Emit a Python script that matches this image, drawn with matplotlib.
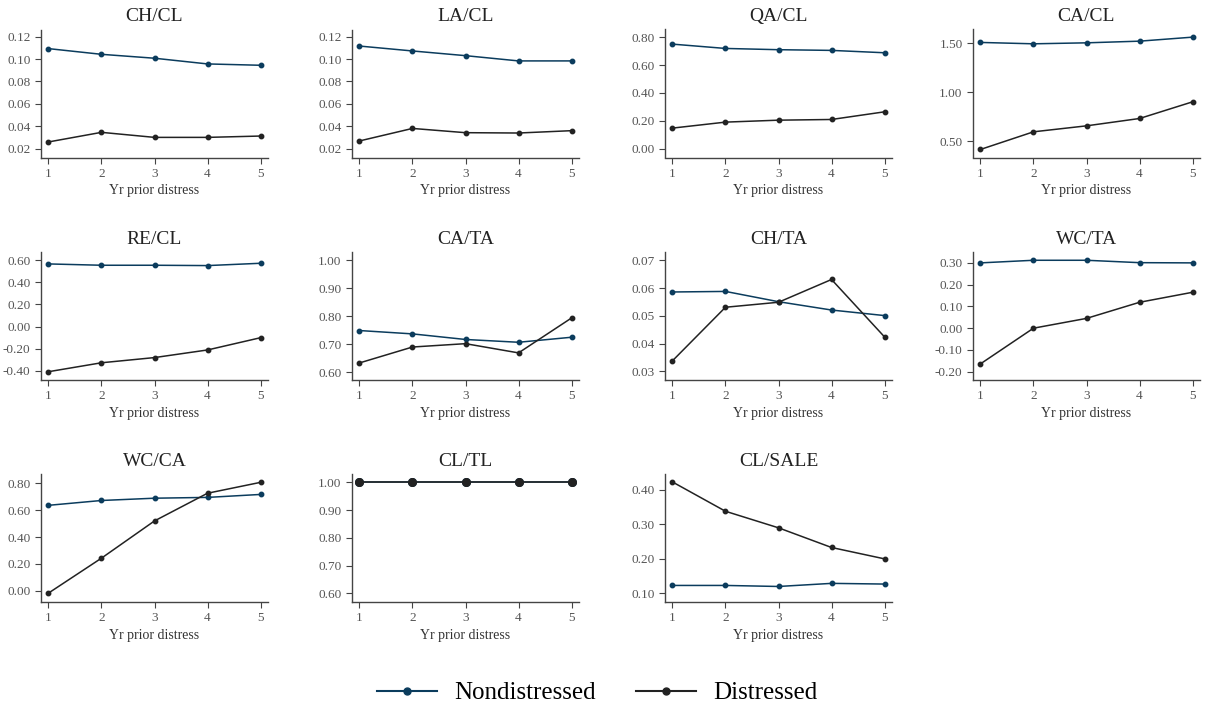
import matplotlib
matplotlib.use('Agg')
import matplotlib.pyplot as plt
from matplotlib.lines import Line2D
import numpy as np

plt.rcParams['font.family'] = ['Liberation Serif', 'DejaVu Serif']
plt.rcParams['axes.unicode_minus'] = False

years = [1, 2, 3, 4, 5]
ratios = ['CH/CL', 'LA/CL', 'QA/CL', 'CA/CL', 'RE/CL', 'CA/TA', 'CH/TA',
          'WC/TA', 'WC/CA', 'CL/TL', 'CL/SALE']

# nondistressed firms
nondist = {
    'CH/CL':   [0.1094, 0.1043, 0.1008, 0.0957, 0.0945],
    'LA/CL':   [0.1117, 0.1073, 0.1031, 0.0984, 0.0984],
    'QA/CL':   [0.750, 0.719, 0.710, 0.705, 0.688],
    'CA/CL':   [1.507, 1.493, 1.503, 1.520, 1.561],
    'RE/CL':   [0.567, 0.555, 0.555, 0.552, 0.573],
    'CA/TA':   [0.749, 0.737, 0.717, 0.707, 0.725],
    'CH/TA':   [0.0586, 0.0588, 0.0551, 0.0521, 0.0501],
    'WC/TA':   [0.300, 0.312, 0.312, 0.301, 0.300],
    'WC/CA':   [0.636, 0.672, 0.689, 0.695, 0.717],
    'CL/TL':   [1.0, 1.0, 1.0, 1.0, 1.0],
    'CL/SALE': [0.123, 0.123, 0.120, 0.129, 0.127],
}
# distressed firms
dist = {
    'CH/CL':   [0.0259, 0.0345, 0.0300, 0.0300, 0.0312],
    'LA/CL':   [0.0268, 0.0380, 0.0342, 0.0339, 0.0360],
    'QA/CL':   [0.147, 0.190, 0.204, 0.209, 0.264],
    'CA/CL':   [0.415, 0.595, 0.656, 0.731, 0.901],
    'RE/CL':   [-0.409, -0.328, -0.281, -0.212, -0.101],
    'CA/TA':   [0.633, 0.690, 0.702, 0.669, 0.794],
    'CH/TA':   [0.0338, 0.0531, 0.0549, 0.0631, 0.0424],
    'WC/TA':   [-0.164, 0.000, 0.045, 0.119, 0.165],
    'WC/CA':   [-0.017, 0.243, 0.520, 0.726, 0.807],
    'CL/TL':   [1.0, 1.0, 1.0, 1.0, 1.0],
    'CL/SALE': [0.423, 0.338, 0.290, 0.233, 0.200],
}
ylims = {
    'CH/CL': (0.012, 0.1265), 'LA/CL': (0.012, 0.1265),
    'QA/CL': (-0.064, 0.855), 'CA/CL': (0.333, 1.639),
    'RE/CL': (-0.484, 0.675), 'CA/TA': (0.572, 1.030),
    'CH/TA': (0.0269, 0.073), 'WC/TA': (-0.238, 0.350),
    'WC/CA': (-0.083, 0.869), 'CL/TL': (0.569, 1.030),
    'CL/SALE': (0.075, 0.446),
}
yticks = {
    'CH/CL': [0.02, 0.04, 0.06, 0.08, 0.10, 0.12],
    'LA/CL': [0.02, 0.04, 0.06, 0.08, 0.10, 0.12],
    'QA/CL': [0.0, 0.2, 0.4, 0.6, 0.8],
    'CA/CL': [0.5, 1.0, 1.5],
    'RE/CL': [-0.4, -0.2, 0.0, 0.2, 0.4, 0.6],
    'CA/TA': [0.6, 0.7, 0.8, 0.9, 1.0],
    'CH/TA': [0.03, 0.04, 0.05, 0.06, 0.07],
    'WC/TA': [-0.2, -0.1, 0.0, 0.1, 0.2, 0.3],
    'WC/CA': [0.0, 0.2, 0.4, 0.6, 0.8],
    'CL/TL': [0.6, 0.7, 0.8, 0.9, 1.0],
    'CL/SALE': [0.1, 0.2, 0.3, 0.4],
}

blue = '#0b3c5d'
black = '#222222'
grey = '#444444'

W, H = 1207, 709
fig = plt.figure(figsize=(W / 100, H / 100), dpi=100)

lefts = [41, 352, 665, 973]
tops = [29.5, 252, 474]
aw, ah = 227, 128

for i, r in enumerate(ratios):
    row, col = divmod(i, 4)
    ax = fig.add_axes([lefts[col] / W, 1 - (tops[row] + ah) / H, aw / W, ah / H])
    ms = 5.5 if r == 'CL/TL' else 3.2
    ax.plot(years, nondist[r], color=blue, lw=1.1, marker='o', ms=ms, zorder=3)
    ax.plot(years, dist[r], color=black, lw=1.1, marker='o', ms=ms, zorder=4)
    ax.set_xlim(0.86, 5.14)
    ax.set_ylim(*ylims[r])
    ax.set_xticks(years)
    ax.set_yticks(yticks[r])
    ax.yaxis.set_major_formatter(matplotlib.ticker.StrMethodFormatter('{x:.2f}'))
    ax.set_title(r, fontsize=14, color='#222222', pad=6)
    ax.set_xlabel('Yr prior distress', fontsize=10, color='#333333', labelpad=3)
    for s in ['top', 'right']:
        ax.spines[s].set_visible(False)
    for s in ['left', 'bottom']:
        ax.spines[s].set_color(grey)
        ax.spines[s].set_linewidth(1.0)
    ax.tick_params(colors=grey, labelcolor='#555555', labelsize=9.5, length=4, width=0.8)

handles = [Line2D([], [], color=blue, lw=1.5, marker='o', ms=5),
           Line2D([], [], color=black, lw=1.5, marker='o', ms=5)]
fig.legend(handles, ['Nondistressed', 'Distressed'], loc='center',
           bbox_to_anchor=(0.495, 1 - 693 / H), ncol=2, frameon=False,
           fontsize=18, handlelength=2.4, columnspacing=1.6, handletextpad=0.7)

fig.savefig('out.png', dpi=100)
